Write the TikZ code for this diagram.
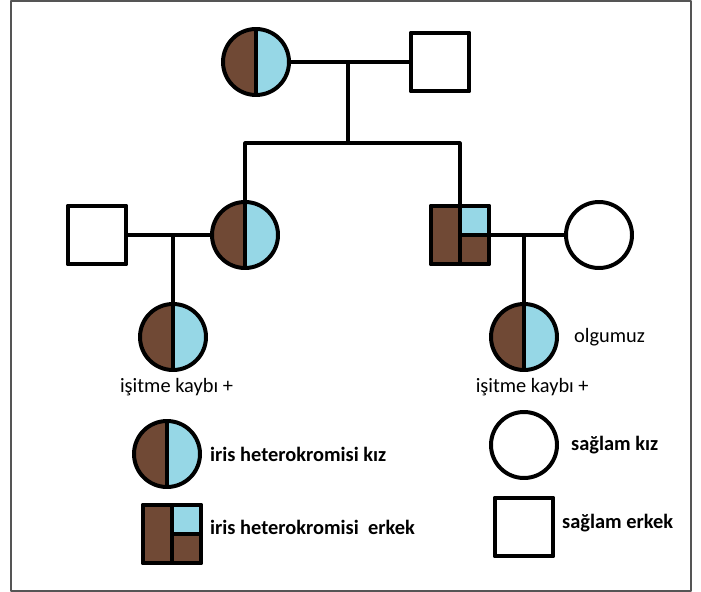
\documentclass[tikz,border=0pt]{standalone}
\usepackage{fontspec}
\setmainfont{Carlito}
\usetikzlibrary{positioning}
\definecolor{irisbrown}{RGB}{112,73,53}
\definecolor{irisblue}{RGB}{150,215,230}
\definecolor{framegray}{RGB}{85,85,85}
\begin{document}
\begin{tikzpicture}[join=round, x=0.03cm, y=-0.03cm,
		kiz/.style={circle, draw, line width=3.4pt, minimum size=1.98cm, inner sep=0pt},
		erkek/.style={rectangle, draw, line width=3.4pt, minimum size=1.76cm, inner sep=0pt},
		hkiz/.style={kiz, path picture={
				\fill[irisbrown] (path picture bounding box.south west) rectangle (path picture bounding box.north);
				\fill[irisblue] (path picture bounding box.south) rectangle (path picture bounding box.north east);
				\draw[line width=3.4pt] (path picture bounding box.south)--(path picture bounding box.north);}},
		herkek/.style={erkek, fill=irisbrown, path picture={
				\fill[irisblue] (path picture bounding box.center) rectangle (path picture bounding box.north east);
				\draw[line width=3.4pt] (path picture bounding box.south)--(path picture bounding box.north)
				(path picture bounding box.center)--(path picture bounding box.east);}},
		bag/.style={line width=2.6pt},
		yazi/.style={font=\fontsize{17.4}{20}\selectfont, inner sep=0pt},
		lejant/.style={yazi, font=\fontsize{17.4}{20}\selectfont\bfseries}]
		\useasboundingbox (0,0) rectangle (701,592);
		\draw[framegray, line width=1.6pt] (11,1) rectangle (691,591);
		% kisiler
		\foreach \ad/\x/\y in {ana/256/62, kiz1/245/235, torun1/173/337, torun2/524/337, lkiz/167/454}
		\node[hkiz] (\ad) at (\x,\y) {};
		\node[erkek] (baba) at (440,62) {};
		\node[erkek] (es1) at (97,235) {};
		\node[herkek] (ogul) at (460,235) {};
		\node[kiz] (es2) at (599,235) {};
		\coordinate (e1) at (348,62);
		\coordinate (k1) at (348,143);
		% baglar
		\draw[bag] (ana)--(baba);
		\draw[bag] (e1)--(k1);
		\draw[bag] (kiz1) |- (k1) -| (ogul);
		\draw[bag] (es1)--(kiz1);
		\draw[bag] (torun1)--(torun1 |- es1);
		\draw[bag] (ogul)--(es2);
		\draw[bag] (torun2)--(torun2 |- ogul);
		\node[yazi, below=5pt of torun1, xshift=3pt] (t1yazi) {işitme kaybı +};
		\node[yazi, below=5pt of torun2, xshift=7pt] (t2yazi) {işitme kaybı +};
		\node[yazi, right=0.45cm of torun2] (olgu) {olgumuz};
		% lejant
		\node[herkek] (lerkek) at (172,534) {};
		\node[kiz] (lsaglamkiz) at (524,445) {};
		\node[erkek] (lsaglamerkek) at (524,527) {};
		\node[lejant, right=0.24cm of lkiz] (lkizyazi) {iris heterokromisi kız};
		\node[lejant, right=0.2cm of lerkek, yshift=6pt] (lerkekyazi) {iris heterokromisi\ \ erkek};
		\node[lejant, right=0.36cm of lsaglamkiz] (lskyazi) {sağlam kız};
		\node[lejant, right=0.2cm of lsaglamerkek, yshift=3pt] (lseyazi) {sağlam erkek};
	\end{tikzpicture}
\end{document}
